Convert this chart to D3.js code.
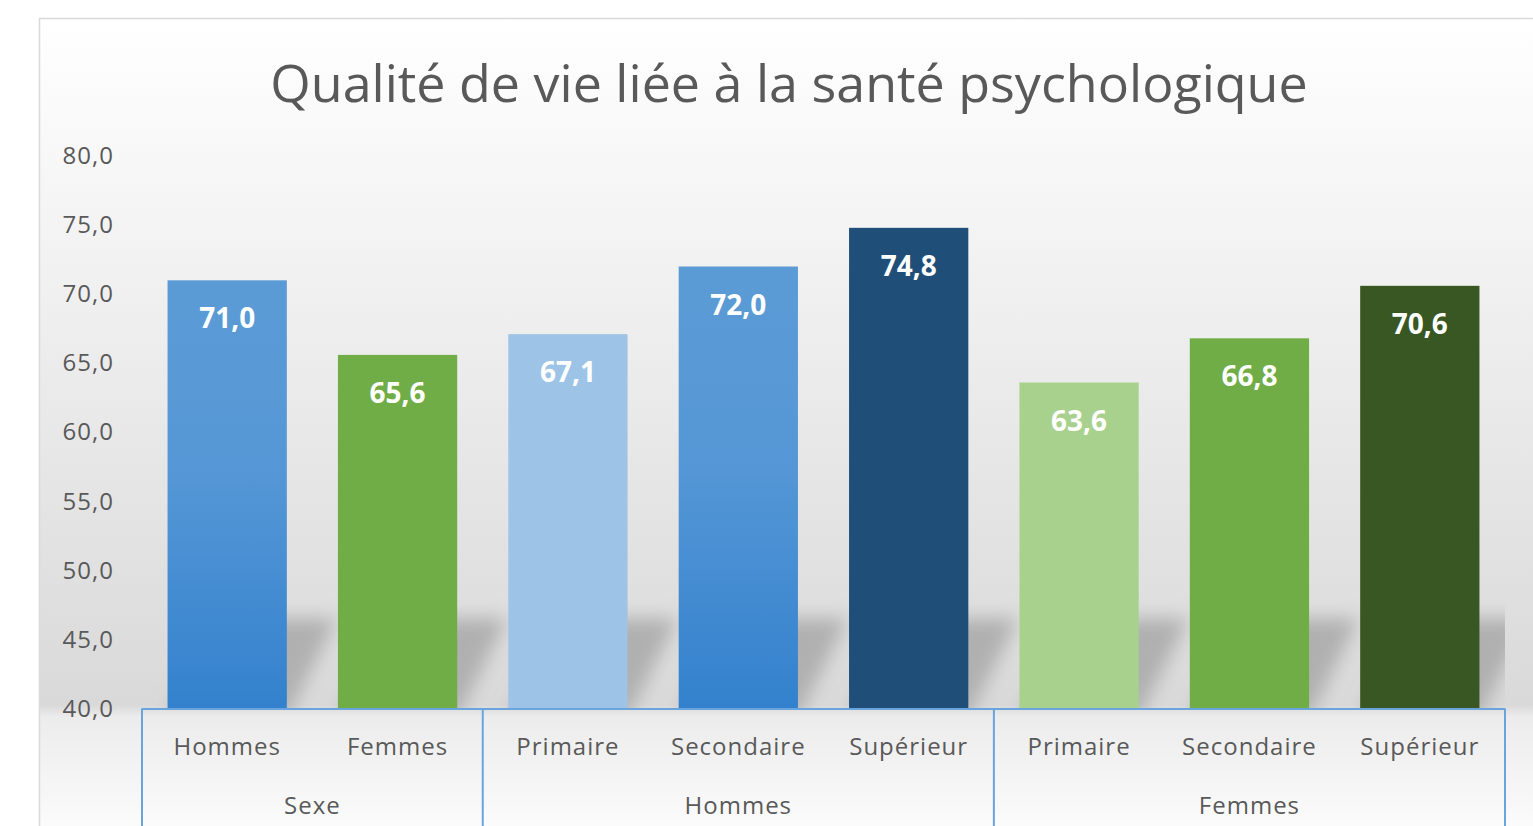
<!DOCTYPE html>
<html>
<head>
<meta charset="utf-8">
<script src="https://cdn.jsdelivr.net/npm/d3@7"></script>
<style>
  body { margin: 0; background: #ffffff; }
  text { font-family: "Open Sans", "Liberation Sans", sans-serif; }
</style>
</head>
<body>
<div id="chart"></div>
<script>
// data
var categories = ["Hommes", "Femmes", "Primaire", "Secondaire", "Supérieur", "Primaire", "Secondaire", "Supérieur"];
var groups = ["Sexe", "Sexe", "Hommes", "Hommes", "Hommes", "Femmes", "Femmes", "Femmes"];
var values = [71.0, 65.6, 67.1, 72.0, 74.8, 63.6, 66.8, 70.6];
var yTicks = [40, 45, 50, 55, 60, 65, 70, 75, 80];

// fill for each bar ("gradBlue" = blue gradient)
var barFills = ["url(#gradBlue)", "#70ad47", "#9dc3e6", "url(#gradBlue)", "#1f4e79", "#a9d18e", "#70ad47", "#385723"];

var W = 1533, H = 826;
var plot = { left: 142, right: 1505, top: 156, bottom: 708.5 };

var fr = d3.formatLocale({ decimal: ",", thousands: " ", grouping: [3], currency: ["", " €"] });
var fmt = fr.format(".1f");

var svg = d3.select("#chart")
    .append("svg")
    .attr("width", W)
    .attr("height", H);

var defs = svg.append("defs");

// chart area background gradient
var bg = defs.append("linearGradient")
    .attr("id", "gradBg")
    .attr("gradientUnits", "userSpaceOnUse")
    .attr("x1", 0).attr("x2", 0).attr("y1", 18).attr("y2", H);
[[0, "#ffffff"], [0.16, "#f8f8f8"], [0.85, "#d9d9d9"], [0.865, "#ececec"], [1, "#fbfbfb"]].forEach(function (s) {
    bg.append("stop").attr("offset", s[0]).attr("stop-color", s[1]);
});

var gb = defs.append("linearGradient")
    .attr("id", "gradBlue")
    .attr("x1", 0).attr("x2", 0).attr("y1", 0).attr("y2", 1);
gb.append("stop").attr("offset", 0).attr("stop-color", "#5b9bd5");
gb.append("stop").attr("offset", 0.45).attr("stop-color", "#5597d6");
gb.append("stop").attr("offset", 1).attr("stop-color", "#3381cd");

defs.append("filter")
    .attr("id", "blur")
    .attr("x", "-50%").attr("y", "-50%").attr("width", "200%").attr("height", "200%")
    .append("feGaussianBlur")
    .attr("stdDeviation", 9);

defs.append("clipPath")
    .attr("id", "plotClip")
    .append("rect")
    .attr("x", plot.left)
    .attr("y", plot.top)
    .attr("width", plot.right - plot.left)
    .attr("height", plot.bottom - plot.top);

// frame
svg.append("rect")
    .attr("x", 39.5)
    .attr("y", 18.5)
    .attr("width", W)
    .attr("height", H)
    .attr("fill", "url(#gradBg)")
    .attr("stroke", "#d9d9d9")
    .attr("stroke-width", 1.5);

// title
svg.append("text")
    .attr("x", 789)
    .attr("y", 102)
    .attr("text-anchor", "middle")
    .attr("font-size", 52)
    .attr("fill", "#595959")
    .text("Qualité de vie liée à la santé psychologique");

var xScale = d3.scaleBand()
    .domain(d3.range(categories.length))
    .range([plot.left, plot.right])
    .paddingInner(0.3)
    .paddingOuter(0.15);

var yScale = d3.scaleLinear()
    .domain([40, 80])
    .range([plot.bottom, plot.top]);

// y axis
var yAxis = svg.append("g")
    .attr("transform", "translate(" + 114 + ",0)")
    .call(d3.axisLeft(yScale).tickValues(yTicks).tickSize(0).tickPadding(0).tickFormat(fmt));
yAxis.select(".domain").remove();
yAxis.selectAll("text")
    .attr("font-size", 24)
    .attr("letter-spacing", 1)
    .attr("font-family", "'Open Sans', sans-serif")
    .attr("fill", "#595959");

// perspective shadow behind the bars
var dx = 50, sh = 90;
svg.append("g")
    .attr("clip-path", "url(#plotClip)")
    .append("g")
    .attr("filter", "url(#blur)")
    .selectAll("polygon")
    .data(values)
    .enter().append("polygon")
    .attr("points", function (d, i) {
        var x0 = xScale(i), x1 = x0 + xScale.bandwidth(), b = yScale(40) + 10;
        return [[x0, b], [x1, b], [x1 + dx, b - sh - 10], [x0 + dx, b - sh - 10]].join(" ");
    })
    .attr("fill", "#b0b0b0");

// bars
svg.selectAll(".bar")
    .data(values)
    .enter().append("rect")
    .attr("class", "bar")
    .attr("x", function (d, i) { return xScale(i); })
    .attr("y", function (d) { return yScale(d); })
    .attr("width", xScale.bandwidth())
    .attr("height", function (d) { return yScale(40) - yScale(d); })
    .attr("fill", function (d, i) { return barFills[i]; });

// value labels
svg.selectAll(".lbl")
    .data(values)
    .enter().append("text")
    .attr("class", "lbl")
    .attr("x", function (d, i) { return xScale(i) + xScale.bandwidth() / 2; })
    .attr("y", function (d) { return yScale(d) + 48; })
    .attr("text-anchor", "middle")
    .attr("font-size", 28)
    .attr("font-weight", "bold")
    .attr("fill", "#ffffff")
    .text(function (d) { return fmt(d); });

// multi-level category axis
var axisColor = "#6aa4dc";
var ax = svg.append("g");
ax.append("line")
    .attr("x1", plot.left).attr("x2", plot.right)
    .attr("y1", plot.bottom + 0.5).attr("y2", plot.bottom + 0.5)
    .attr("stroke", axisColor).attr("stroke-width", 2);

// group spans from the group list
var spans = [];
groups.forEach(function (g, i) {
    if (i === 0 || groups[i - 1] !== g) spans.push({ name: g, first: i, last: i });
    else spans[spans.length - 1].last = i;
});

var step = xScale.step();
function bandLeft(i) { return xScale(i) - step * xScale.paddingInner() / 2; }
function bandRight(i) { return xScale(i) + xScale.bandwidth() + step * xScale.paddingInner() / 2; }

var seps = spans.map(function (s) { return bandLeft(s.first); });
seps.push(bandRight(spans[spans.length - 1].last));

ax.selectAll(".sep")
    .data(seps)
    .enter().append("line")
    .attr("class", "sep")
    .attr("x1", function (d) { return d; }).attr("x2", function (d) { return d; })
    .attr("y1", plot.bottom).attr("y2", H)
    .attr("stroke", axisColor).attr("stroke-width", 2);

ax.selectAll(".cat")
    .data(categories)
    .enter().append("text")
    .attr("class", "cat")
    .attr("x", function (d, i) { return xScale(i) + xScale.bandwidth() / 2; })
    .attr("y", 755)
    .attr("text-anchor", "middle")
    .attr("font-size", 24)
    .attr("letter-spacing", 1)
    .attr("fill", "#595959")
    .text(function (d) { return d; });

ax.selectAll(".grp")
    .data(spans)
    .enter().append("text")
    .attr("class", "grp")
    .attr("x", function (s) { return (bandLeft(s.first) + bandRight(s.last)) / 2; })
    .attr("y", 814)
    .attr("text-anchor", "middle")
    .attr("font-size", 24)
    .attr("letter-spacing", 1)
    .attr("fill", "#595959")
    .text(function (s) { return s.name; });
</script>
</body>
</html>
